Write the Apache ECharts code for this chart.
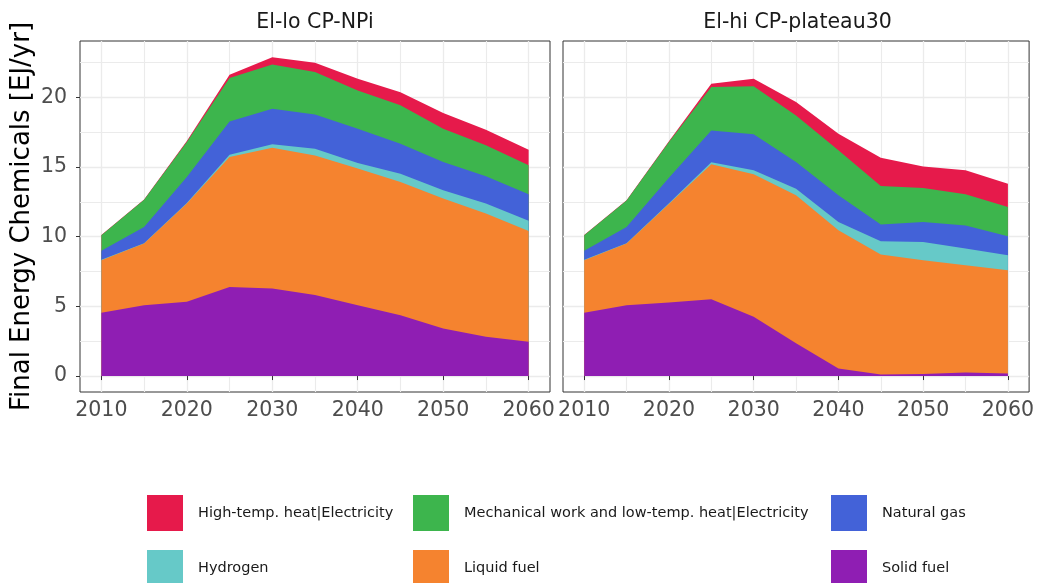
<!DOCTYPE html>
<html>
<head>
<meta charset="utf-8">
<script src="https://cdn.jsdelivr.net/npm/echarts@6/dist/echarts.min.js"></script>
<style>
html,body{margin:0;padding:0;background:#fff;}
#chart{width:1037px;height:583px;}
</style>
</head>
<body>
<div id="chart"></div>
<script>
// ---------- data ----------
const years = [2010, 2015, 2020, 2025, 2030, 2035, 2040, 2045, 2050, 2055, 2060];
const panelTitles = ['El-lo CP-NPi', 'El-hi CP-plateau30'];
// stacking order, bottom to top
const seriesNames = ['Solid fuel', 'Liquid fuel', 'Hydrogen', 'Natural gas',
  'Mechanical work and low-temp. heat|Electricity', 'High-temp. heat|Electricity'];

// Panel 1: El-lo CP-NPi
const p1Solid  = [4.54, 5.09, 5.33, 6.40, 6.28, 5.81, 5.09, 4.37, 3.42, 2.82, 2.46];
const p1Liquid = [3.78, 4.42, 7.05, 9.32, 10.11, 10.03, 9.80, 9.56, 9.32, 8.84, 7.96];
const p1H2     = [0.02, 0.03, 0.05, 0.17, 0.24, 0.48, 0.40, 0.60, 0.59, 0.72, 0.72];
const p1Gas    = [0.65, 1.16, 1.86, 2.39, 2.56, 2.46, 2.46, 2.15, 2.03, 1.96, 1.91];
const p1Mech   = [1.12, 1.96, 2.51, 3.11, 3.18, 3.04, 2.75, 2.75, 2.39, 2.22, 2.08];
const p1High   = [0.01, 0.02, 0.08, 0.23, 0.52, 0.66, 0.84, 0.95, 1.13, 1.12, 1.12];

// Panel 2: El-hi CP-plateau30
const p2Solid  = [4.54, 5.09, 5.28, 5.52, 4.25, 2.35, 0.55, 0.12, 0.15, 0.26, 0.19];
const p2Liquid = [3.78, 4.42, 7.07, 9.68, 10.23, 10.62, 9.92, 8.60, 8.17, 7.70, 7.41];
const p2H2     = [0.02, 0.03, 0.05, 0.14, 0.29, 0.48, 0.59, 0.96, 1.31, 1.19, 1.07];
const p2Gas    = [0.65, 1.16, 1.84, 2.29, 2.58, 1.91, 1.91, 1.19, 1.43, 1.65, 1.37];
const p2Mech   = [1.12, 1.90, 2.56, 3.11, 3.46, 3.35, 3.23, 2.77, 2.44, 2.25, 2.10];
const p2High   = [0.01, 0.02, 0.05, 0.24, 0.53, 0.96, 1.20, 2.03, 1.55, 1.72, 1.67];

const xMajorTicks = [2010, 2020, 2030, 2040, 2050, 2060];
const xMinorTicks = [2015, 2025, 2035, 2045, 2055];
const yMajorTicks = [0, 5, 10, 15, 20];
const yMinorTicks = [2.5, 7.5, 12.5, 17.5, 22.5];
const yTitle = 'Final Energy Chemicals [EJ/yr]';
// legend grid: rows of [column1, column2, column3]
const legendRows = [
  ['High-temp. heat|Electricity', 'Mechanical work and low-temp. heat|Electricity', 'Natural gas'],
  ['Hydrogen', 'Liquid fuel', 'Solid fuel']
];

// ---------- styling ----------
const colors = {
  'Solid fuel': '#8f1eb3',
  'Liquid fuel': '#f5832f',
  'Hydrogen': '#66c9c8',
  'Natural gas': '#4362d8',
  'Mechanical work and low-temp. heat|Electricity': '#3db54d',
  'High-temp. heat|Electricity': '#e61a4b'
};
const FONT = 'DejaVu Sans';
const gridCol = '#ebebeb';
const panels = [
  [p1Solid, p1Liquid, p1H2, p1Gas, p1Mech, p1High],
  [p2Solid, p2Liquid, p2H2, p2Gas, p2Mech, p2High]
];
// cumulative (stacked) tops for each layer
const cumulative = panels.map(vals => {
  let acc = years.map(() => 0);
  return vals.map(arr => { acc = acc.map((a, i) => a + arr[i]); return acc.slice(); });
});
const xMin = 2007.5, xMax = 2062.5, yMin = -1.145, yMax = 24.05;

const grids = [
  {left: 80, top: 41, width: 470, height: 351},
  {left: 563, top: 41, width: 469, height: 351}
].map(g => Object.assign(g, {show: true, borderColor: '#333333', borderWidth: 1, backgroundColor: '#ffffff', containLabel: false}));

const xAxes = [], yAxes = [];
[0, 1].forEach(gi => {
  xAxes.push({
    type: 'value', gridIndex: gi, min: xMin, max: xMax,
    axisLine: {show: false},
    axisTick: {show: true, customValues: xMajorTicks, length: 4, lineStyle: {color: '#333333', width: 1}},
    axisLabel: {show: true, customValues: xMajorTicks, formatter: v => String(v),
      fontFamily: FONT, fontSize: 20.5, color: '#4d4d4d', margin: 8},
    splitLine: {show: true, lineStyle: {color: gridCol, width: 1.3}}
  });
  xAxes.push({
    type: 'value', gridIndex: gi, min: xMin, max: xMax,
    axisLine: {show: false},
    axisTick: {show: false, customValues: xMinorTicks},
    axisLabel: {show: false},
    splitLine: {show: true, lineStyle: {color: gridCol, width: 1.1}}
  });
  yAxes.push({
    type: 'value', gridIndex: gi, min: yMin, max: yMax, position: 'left',
    axisLine: {show: false},
    axisTick: {show: gi === 0, customValues: yMajorTicks, length: 4, lineStyle: {color: '#333333', width: 1}},
    axisLabel: {show: gi === 0, customValues: yMajorTicks, formatter: v => String(v),
      fontFamily: FONT, fontSize: 20.5, color: '#4d4d4d', margin: 13},
    splitLine: {show: true, lineStyle: {color: gridCol, width: 1.3}},
    name: gi === 0 ? yTitle : '',
    nameLocation: 'middle', nameGap: 45, nameRotate: 90,
    nameTextStyle: {fontFamily: FONT, fontSize: 26, color: '#000000'}
  });
  yAxes.push({
    type: 'value', gridIndex: gi, min: yMin, max: yMax, position: 'left',
    axisLine: {show: false},
    axisTick: {show: false, customValues: yMinorTicks},
    axisLabel: {show: false},
    splitLine: {show: true, lineStyle: {color: gridCol, width: 1.1}}
  });
});

// draw from the top layer down so that each lower layer covers the one above it
const series = [];
cumulative.forEach((cum, pi) => {
  for (let si = seriesNames.length - 1; si >= 0; si--) {
    const name = seriesNames[si];
    series.push({
      name: name, type: 'line',
      xAxisIndex: pi * 2, yAxisIndex: pi * 2,
      data: years.map((y, i) => [y, cum[si][i]]),
      symbol: 'none', showSymbol: false, smooth: false,
      color: colors[name],
      lineStyle: {width: 0, color: colors[name]},
      areaStyle: {color: colors[name], opacity: 1, origin: 'auto'},
      emphasis: {disabled: true},
      silent: true, animation: false, z: 3
    });
  }
});

// legend: one legend component per cell of a 3 x 2 layout
const colLeft = [147, 413, 831];
const rowTop = [495, 550];
const legends = [];
legendRows.forEach((row, ri) => {
  row.forEach((name, ci) => {
    legends.push({
      left: colLeft[ci], top: rowTop[ri], padding: 0, orient: 'horizontal',
      itemWidth: 36, itemHeight: 36, itemGap: 0,
      selectedMode: false,
      data: [{name: name, icon: 'rect', itemStyle: {color: colors[name]}}],
      textStyle: {fontFamily: FONT, fontSize: 14.5, color: '#1a1a1a', padding: [0, 0, 0, 10]}
    });
  });
});

const titles = panelTitles.map((t, i) => ({
  text: t, left: i === 0 ? 315 : 797.5, top: 12, textAlign: 'center', padding: 0,
  textStyle: {fontFamily: FONT, fontSize: 20.5, fontWeight: 'normal', color: '#1a1a1a'}
}));

const chart = echarts.init(document.getElementById('chart'), null, {renderer: 'canvas'});
chart.setOption({
  backgroundColor: '#ffffff',
  animation: false,
  title: titles,
  legend: legends,
  grid: grids,
  xAxis: xAxes,
  yAxis: yAxes,
  series: series
});
</script>
</body>
</html>
